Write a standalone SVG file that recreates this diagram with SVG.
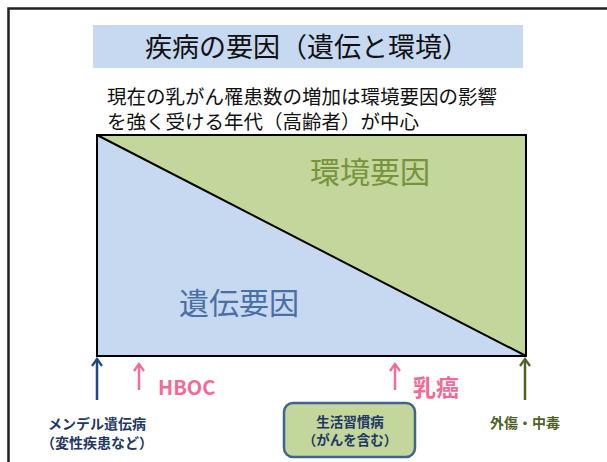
<svg xmlns="http://www.w3.org/2000/svg" width="607" height="462" viewBox="0 0 607 462">
<style>
.jp{font-family:"Noto Sans CJK JP","Noto Sans",sans-serif}
.b{font-weight:bold}
</style>
<defs>
<marker id="ah" markerWidth="12" markerHeight="12" refX="10" refY="6" orient="auto" markerUnits="userSpaceOnUse" viewBox="0 0 12 12">
<polyline points="3,1 10,6 3,11" fill="none" stroke="context-stroke" stroke-width="2.2" stroke-linejoin="miter"/>
</marker>
</defs>
<rect width="607" height="462" fill="#fff"/>
<path d="M8.5,462 V8.5 H607" fill="none" stroke="#222" stroke-width="2.5"/>
<g id="title">
<rect x="93" y="25" width="430" height="43" fill="#c6d9f1"/>
<text x="307" y="57" font-size="27" text-anchor="middle" class="jp" fill="#111">疾病の要因（遺伝と環境）</text>
</g>
<g id="subtitle" class="jp" font-size="19.5" fill="#111">
<text x="107" y="104">現在の乳がん罹患数の増加は環境要因の影響</text>
<text x="107" y="129">を強く受ける年代（高齢者）が中心</text>
</g>
<g id="chart">
<polygon points="97,135 526,135 526,356" fill="#c3d69b"/>
<polygon points="97,135 97,356 526,356" fill="#c6d9f0"/>
<rect x="97" y="135" width="429" height="221" fill="none" stroke="#000" stroke-width="2"/>
<line x1="97" y1="135" x2="526" y2="356" stroke="#000" stroke-width="2"/>
<text x="370" y="183" font-size="30" text-anchor="middle" class="jp" fill="#77933c">環境要因</text>
<text x="239" y="314" font-size="30" text-anchor="middle" class="jp" fill="#4a6fa5">遺伝要因</text>
</g>
<g id="connectors" stroke-width="2.5" fill="none">
<line x1="97" y1="400" x2="97" y2="359" stroke="#1f497d" marker-end="url(#ah)"/>
<line x1="139" y1="390" x2="139" y2="364" stroke="#f36a96" marker-end="url(#ah)"/>
<line x1="395" y1="390" x2="395" y2="364" stroke="#f36a96" marker-end="url(#ah)"/>
<line x1="525" y1="400" x2="525" y2="359" stroke="#4f6228" marker-end="url(#ah)"/>
</g>
<g id="hboc">
<text x="158" y="395" font-size="20" class="jp b" fill="#f36a96">HBOC</text>
</g>
<g id="nyugan">
<text x="413" y="396" font-size="23" class="jp b" fill="#f36a96">乳癌</text>
</g>
<g id="mendel" class="jp b" font-size="14" fill="#1f3864" text-anchor="middle">
<text x="97" y="429">メンデル遺伝病</text>
<text x="97" y="448">（変性疾患など）</text>
</g>
<g id="lifestyle">
<rect x="284" y="403" width="131" height="54" rx="9" fill="#c3d69b" stroke="#41648f" stroke-width="2.5"/>
<text x="350" y="427" font-size="13.5" text-anchor="middle" class="jp b" fill="#1f3864">生活習慣病</text>
<text x="350" y="445" font-size="13.5" text-anchor="middle" class="jp b" fill="#1f3864">（がんを含む）</text>
</g>
<g id="trauma">
<text x="525" y="428" font-size="14" text-anchor="middle" class="jp b" fill="#4f6228">外傷・中毒</text>
</g>
</svg>
